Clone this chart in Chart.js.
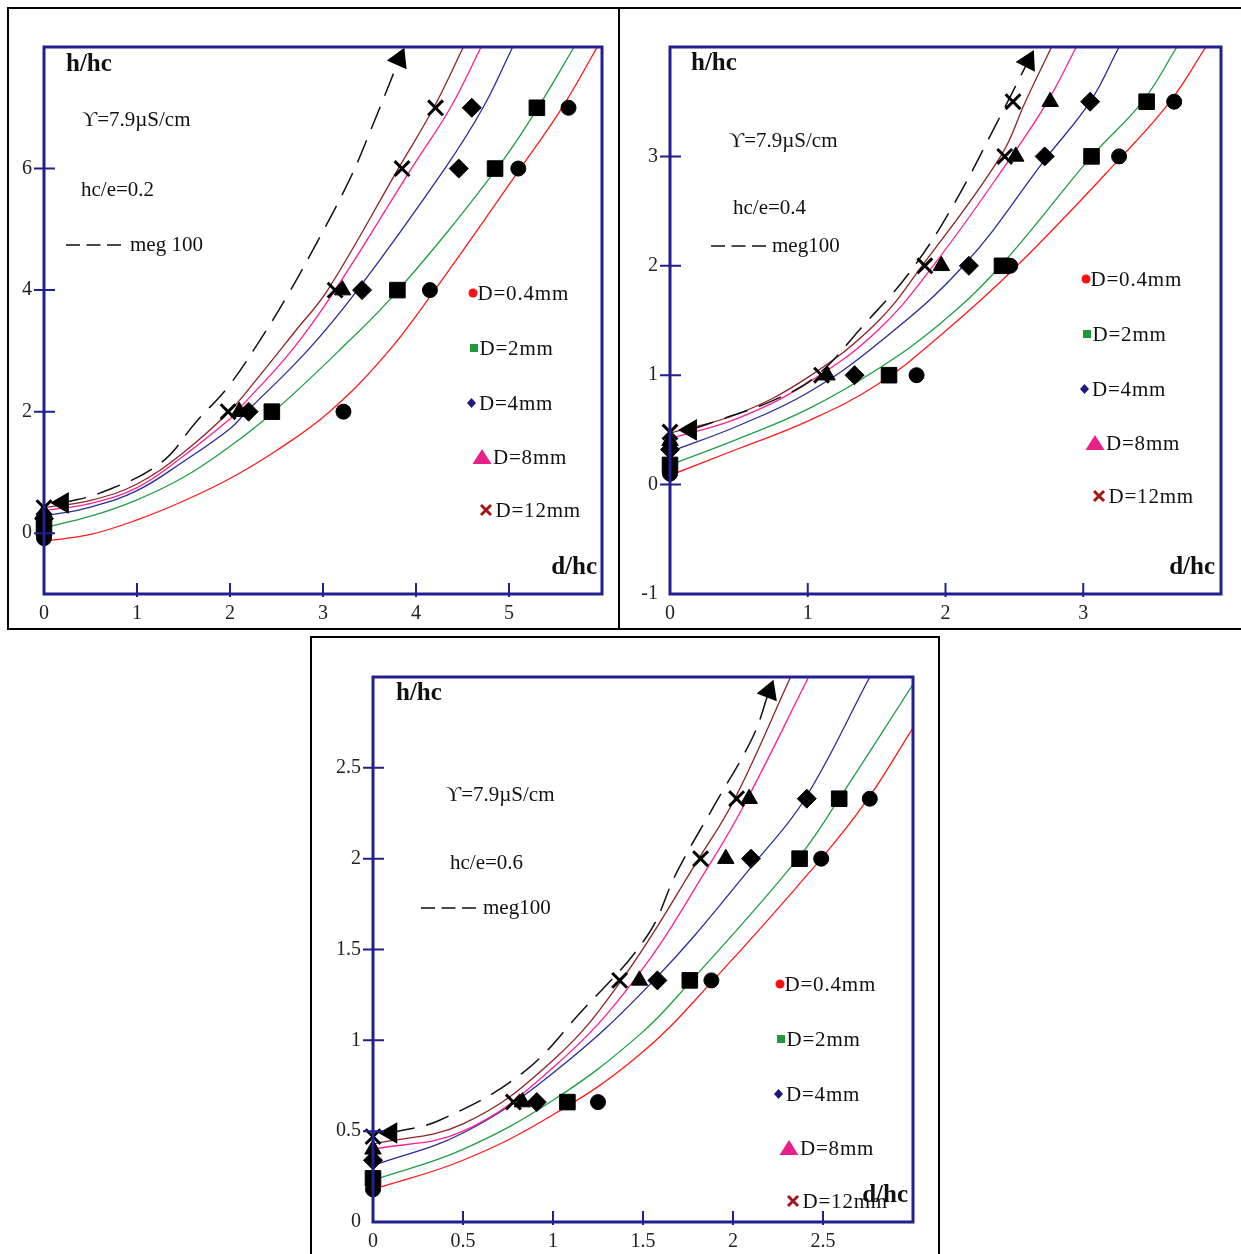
<!DOCTYPE html>
<html>
<head>
<meta charset="utf-8">
<script src="https://cdn.jsdelivr.net/npm/chart.js@4.4.1/dist/chart.umd.min.js"></script>
<style>
  html, body { margin: 0; padding: 0; background: #fff; }
  #page { position: relative; width: 1241px; height: 1254px; overflow: hidden; background: #fff; }
  .frame { position: absolute; border: 2px solid #000; box-sizing: border-box; }
  .panel { position: absolute; }
</style>
</head>
<body>
<div id="page">
  <div class="frame" style="left:7px;top:7px;width:613px;height:623px"></div>
  <div class="frame" style="left:618px;top:7px;width:640px;height:623px"></div>
  <div class="frame" style="left:310px;top:636px;width:630px;height:640px"></div>
  <div class="panel" style="left:9px;top:9px;width:609px;height:619px"><canvas id="c1"></canvas></div>
  <div class="panel" style="left:621px;top:9px;width:620px;height:619px"><canvas id="c2"></canvas></div>
  <div class="panel" style="left:313px;top:639px;width:625px;height:615px"><canvas id="c3"></canvas></div>
</div>
<script>
// ---- panel 1 : hc/e = 0.2 ----
const p1XTicks = [0, 1, 2, 3, 4, 5];
const p1YTicks = [0, 2, 4, 6];
const p1Circle   = [[0, -0.08], [3.22, 2], [4.15, 4], [5.10, 6], [5.64, 7]];
const p1Square   = [[0, 0.08], [2.45, 2], [3.80, 4], [4.85, 6], [5.30, 7]];
const p1Diamond  = [[0, 0.24], [2.20, 2], [3.42, 4], [4.46, 6], [4.60, 7]];
const p1Triangle = [[0, 0.34], [2.10, 2], [3.21, 4]];
const p1Cross    = [[0, 0.42], [1.98, 2], [3.13, 4], [3.85, 6], [4.21, 7]];
const p1Red   = [[0, -0.13], [0.5, -0.02], [1, 0.22], [1.5, 0.53], [2, 0.9], [2.5, 1.36], [3.07, 2.0], [3.68, 2.95], [4.2, 4.0], [5.12, 6.0], [5.57, 7.0], [5.95, 8.0]];
const p1Green = [[0, 0.09], [0.5, 0.28], [1, 0.55], [1.5, 0.92], [2, 1.43], [2.47, 2.0], [3.17, 3.0], [3.81, 4.0], [4.87, 6.0], [5.31, 7.0], [5.70, 8.0]];
const p1Blue  = [[0, 0.28], [0.5, 0.43], [1, 0.7], [1.5, 1.18], [2, 1.72], [2.18, 2.0], [2.83, 3.0], [3.37, 4.0], [4.31, 6.0], [4.72, 7.0], [5.04, 8.0]];
const p1Pink  = [[0, 0.37], [0.5, 0.49], [1, 0.75], [1.5, 1.27], [2, 1.88], [2.07, 2.0], [2.66, 3.0], [3.13, 4.0], [3.95, 6.0], [4.37, 7.0], [4.70, 8.0]];
const p1Brown = [[0, 0.42], [0.5, 0.54], [1, 0.81], [1.5, 1.33], [1.99, 2.0], [2.28, 2.52], [2.71, 3.34], [3.05, 4.0], [3.81, 6.0], [4.19, 7.0], [4.51, 8.0]];
const p1Meg   = [[0.2, 0.5], [0.6, 0.66], [1.25, 1.15], [1.64, 1.84], [1.98, 2.41], [2.32, 3.17], [2.61, 3.89], [2.87, 4.6], [3.28, 5.8], [3.51, 6.62], [3.82, 7.8]];

// ---- panel 2 : hc/e = 0.4 ----
const p2XTicks = [0, 1, 2, 3];
const p2YTicks = [-1, 0, 1, 2, 3];
const p2Circle   = [[0, 0.10], [1.79, 1], [2.47, 2], [3.26, 3], [3.66, 3.5]];
const p2Square   = [[0, 0.18], [1.59, 1], [2.41, 2], [3.06, 3], [3.46, 3.5]];
const p2Diamond  = [[0, 0.32], [1.34, 1], [2.17, 2], [2.72, 3], [3.05, 3.5]];
const p2Triangle = [[0, 0.40], [1.14, 1], [1.97, 2], [2.51, 3], [2.76, 3.5]];
const p2Cross    = [[0, 0.48], [1.10, 1], [1.85, 2], [2.43, 3], [2.49, 3.5]];
const p2Red   = [[0, 0.085], [0.5, 0.33], [1, 0.58], [1.5, 0.91], [1.96, 1.36], [2.52, 2.0], [3.28, 3.0], [3.63, 3.5], [3.89, 4.0]];
const p2Green = [[0, 0.18], [0.5, 0.42], [1, 0.69], [1.5, 1.05], [1.96, 1.47], [2.40, 2.0], [3.06, 3.0], [3.43, 3.5], [3.68, 4.0]];
const p2Blue  = [[0, 0.30], [0.5, 0.54], [1, 0.84], [1.5, 1.28], [2.13, 2.0], [2.74, 3.0], [3.05, 3.5], [3.26, 4.0]];
const p2Pink  = [[0, 0.42], [0.5, 0.61], [1, 0.93], [1.5, 1.40], [1.91, 2.0], [2.48, 3.0], [2.74, 3.5], [2.95, 4.0]];
const p2Brown = [[0, 0.47], [0.5, 0.65], [1, 0.98], [1.5, 1.48], [1.83, 2.0], [2.40, 3.0], [2.58, 3.5], [2.77, 4.0]];
const p2Meg   = [[0.15, 0.5], [0.38, 0.6], [0.75, 0.77], [1.06, 0.99], [1.4, 1.45], [1.74, 1.94], [2.05, 2.54], [2.37, 3.3], [2.6, 3.87]];

// ---- panel 3 : hc/e = 0.6 ----
const p3XTicks = [0, 0.5, 1, 1.5, 2, 2.5];
const p3YTicks = [0, 0.5, 1, 1.5, 2, 2.5];
const p3Circle   = [[0, 0.18], [1.25, 0.66], [1.88, 1.33], [2.49, 2], [2.76, 2.33]];
const p3Square   = [[0, 0.24], [1.08, 0.66], [1.76, 1.33], [2.37, 2], [2.59, 2.33]];
const p3Diamond  = [[0, 0.34], [0.91, 0.66], [1.58, 1.33], [2.10, 2], [2.41, 2.33]];
const p3Triangle = [[0, 0.40], [0.83, 0.66], [1.48, 1.33], [1.96, 2], [2.09, 2.33]];
const p3Cross    = [[0, 0.47], [0.78, 0.66], [1.37, 1.33], [1.82, 2], [2.02, 2.33]];
const p3Red   = [[0, 0.18], [0.5, 0.34], [1, 0.59], [1.48, 0.92], [1.89, 1.33], [2.49, 2.0], [2.75, 2.33], [3.0, 2.72]];
const p3Green = [[0, 0.23], [0.5, 0.40], [1, 0.67], [1.48, 1.03], [1.77, 1.33], [2.36, 2.0], [2.59, 2.33], [3.0, 2.96]];
const p3Blue  = [[0, 0.31], [0.5, 0.49], [1, 0.82], [1.56, 1.33], [2.14, 2.0], [2.40, 2.33], [2.76, 3.0]];
const p3Pink  = [[0, 0.40], [0.5, 0.50], [1, 0.85], [1.45, 1.33], [1.89, 2.0], [2.08, 2.33], [2.42, 3.0]];
const p3Brown = [[0, 0.43], [0.5, 0.54], [1, 0.89], [1.38, 1.33], [1.81, 2.0], [2.01, 2.33], [2.32, 3.0]];
const p3Meg   = [[0.1, 0.49], [0.37, 0.56], [0.83, 0.82], [1.15, 1.15], [1.52, 1.57], [1.69, 1.93], [1.90, 2.30], [2.11, 2.67], [2.2, 2.92]];

const legendLabels = ["D=0.4mm", "D=2mm", "D=4mm", "D=8mm", "D=12mm"];

const RED = "#ff1a1a", GREEN = "#1e9e44", BLUE = "#2a2a9c", PINK = "#ff1f8f", BROWN = "#8c2424";
const AXIS = "#221f8e";
const SERIF = '"Liberation Serif", "Times New Roman", serif';

const xy = pts => pts.map(([x, y]) => ({ x, y }));

function marker(pts, style, r) {
    return {
        data: xy(pts), showLine: false, pointStyle: style, pointRadius: r,
        pointBackgroundColor: "#000", pointBorderColor: "#000",
        pointBorderWidth: style === "crossRot" ? 3 : 1, clip: false
    };
}

function curve(pts, color) {
    return {
        data: xy(pts), showLine: true, borderColor: color, borderWidth: 1.3,
        pointRadius: 0, tension: 0.4, fill: false
    };
}

function megLine(pts, tipAngle) {
    const last = pts.length - 1;
    return {
        data: xy(pts), showLine: true, borderColor: "#111", borderWidth: 1.5, borderDash: [24, 12],
        tension: 0.4, fill: false, clip: false,
        pointStyle: "triangle",
        pointRadius: pts.map((_, i) => (i === 0 || i === last) ? 11 : 0),
        pointRotation: pts.map((_, i) => i === 0 ? -90 : tipAngle),
        pointBackgroundColor: "#000", pointBorderColor: "#000"
    };
}

// legend rows: marker offset and text start, relative to the legend origin
const legendRows = [
    { shape: "circle",   color: "#ff1010", mx: 0,    my: 0,   tx: 4.5 },
    { shape: "square",   color: "#1e9a3c", mx: 1,    my: 55,  tx: 6.5 },
    { shape: "diamond",  color: "#1c1a7a", mx: -1.5, my: 110, tx: 6 },
    { shape: "triangle", color: "#e8208a", mx: 9,    my: 164, tx: 20 },
    { shape: "cross",    color: "#a01818", mx: 13,   my: 217, tx: 22.5 }
];

function drawLegendMark(ctx, shape, cx, cy, color) {
    ctx.fillStyle = color; ctx.strokeStyle = color;
    ctx.beginPath();
    if (shape === "circle") { ctx.arc(cx, cy, 4.5, 0, Math.PI * 2); ctx.fill(); }
    else if (shape === "square") { ctx.fillRect(cx - 4, cy - 4, 8, 8); }
    else if (shape === "diamond") {
        ctx.moveTo(cx, cy - 5); ctx.lineTo(cx + 4.5, cy); ctx.lineTo(cx, cy + 5); ctx.lineTo(cx - 4.5, cy);
        ctx.closePath(); ctx.fill();
    } else if (shape === "triangle") {
        ctx.moveTo(cx, cy - 8); ctx.lineTo(cx + 9.5, cy + 7); ctx.lineTo(cx - 9.5, cy + 7);
        ctx.closePath(); ctx.fill();
    } else {
        ctx.lineWidth = 3;
        ctx.moveTo(cx - 5, cy - 5); ctx.lineTo(cx + 5, cy + 5);
        ctx.moveTo(cx + 5, cy - 5); ctx.lineTo(cx - 5, cy + 5);
        ctx.stroke();
    }
}

const decorPlugin = {
    id: "decor",
    afterDraw(chart, args, o) {
        const { ctx, chartArea: a, scales: { x, y } } = chart;
        ctx.save();

        // tick marks crossing the frame
        ctx.strokeStyle = AXIS;
        ctx.lineWidth = 2;
        ctx.beginPath();
        y.ticks.forEach(t => {
            const py = y.getPixelForValue(t.value);
            if (py > a.bottom - 3 || py < a.top + 3) return;
            ctx.moveTo(a.left - 10, py); ctx.lineTo(a.left + 11, py);
        });
        x.ticks.forEach(t => {
            const px = x.getPixelForValue(t.value);
            if (px < a.left + 3 || px > a.right - 3) return;
            ctx.moveTo(px, a.bottom - 11); ctx.lineTo(px, a.bottom + 3);
        });
        ctx.stroke();
        ctx.lineWidth = 3;
        ctx.strokeRect(a.left, a.top, a.right - a.left, a.bottom - a.top);

        // text notes
        ctx.fillStyle = "#111";
        ctx.textBaseline = "middle";
        ctx.textAlign = "left";
        ctx.font = `bold 25px ${SERIF}`;
        ctx.fillText("h/hc", a.left + o.hAt[0], a.top + o.hAt[1]);
        ctx.font = `21px ${SERIF}`;
        ctx.fillText("ϒ=7.9µS/cm", a.left + o.condAt[0], a.top + o.condAt[1]);
        ctx.fillText(o.ratio, a.left + o.ratioAt[0], a.top + o.ratioAt[1]);
        ctx.fillText(o.meg, a.left + o.megAt[0] + o.megText, a.top + o.megAt[1]);

        // "- - -" sample
        ctx.strokeStyle = "#111";
        ctx.lineWidth = 1.6;
        ctx.beginPath();
        for (let i = 0; i < 3; i++) {
            const sx = a.left + o.megAt[0] + i * 20.5;
            ctx.moveTo(sx, a.top + o.megAt[1]); ctx.lineTo(sx + 14, a.top + o.megAt[1]);
        }
        ctx.stroke();

        // legend
        const lx = a.left + o.legendAt[0], ly = a.top + o.legendAt[1];
        legendRows.forEach((r, i) => {
            drawLegendMark(ctx, r.shape, lx + r.mx, ly + r.my, r.color);
            ctx.fillStyle = "#111";
            ctx.font = `21px ${SERIF}`;
            ctx.letterSpacing = "0.8px";
            ctx.fillText(legendLabels[i], lx + r.tx, ly + r.my + 1);
            ctx.letterSpacing = "0px";
        });

        // d/hc
        ctx.fillStyle = "#111";
        ctx.textAlign = "right";
        ctx.font = `bold 25px ${SERIF}`;
        ctx.fillText("d/hc", a.right - o.dAt[0], a.bottom - o.dAt[1]);

        ctx.restore();
    }
};

function makePanel(id, p) {
    const ctx = document.getElementById(id).getContext("2d");
    const tickFont = { family: SERIF, size: 20 };
    return new Chart(ctx, {
        type: "scatter",
        data: {
            datasets: [
                marker(p.cross, "crossRot", 10.5),
                marker(p.triangle, "triangle", 9.5),
                marker(p.diamond, "rectRot", 9.5),
                marker(p.square, "rect", 11),
                marker(p.circle, "circle", 7.5),
                megLine(p.meg, p.tip),
                curve(p.brown, BROWN),
                curve(p.pink, PINK),
                curve(p.blue, BLUE),
                curve(p.green, GREEN),
                curve(p.red, RED)
            ]
        },
        options: {
            responsive: true, maintainAspectRatio: false, animation: false,
            layout: { padding: { top: 38, right: p.padRight, left: 0, bottom: 0 } },
            plugins: {
                legend: { display: false }, tooltip: { enabled: false },
                decor: p.notes
            },
            scales: {
                x: {
                    type: "linear", min: p.xMin, max: p.xMax,
                    grid: { display: false, drawTicks: false }, border: { display: false },
                    ticks: { font: tickFont, color: "#222", padding: 8, callback: v => String(v) },
                    afterBuildTicks: s => { s.ticks = p.xTicks.map(v => ({ value: v })); },
                    afterFit: s => { s.height = p.bottomH; }
                },
                y: {
                    type: "linear", min: p.yMin, max: p.yMax,
                    grid: { display: false, drawTicks: false }, border: { display: false },
                    ticks: { font: tickFont, color: "#222", padding: 12, callback: v => String(v) },
                    afterBuildTicks: s => { s.ticks = p.yTicks.map(v => ({ value: v })); },
                    afterFit: s => { s.width = p.leftW; }
                }
            }
        },
        plugins: [decorPlugin]
    });
}

makePanel("c1", {
    xMin: 0, xMax: 6, yMin: -1, yMax: 8, xTicks: p1XTicks, yTicks: p1YTicks,
    leftW: 35, bottomH: 34, padRight: 16,
    circle: p1Circle, square: p1Square, diamond: p1Diamond, triangle: p1Triangle, cross: p1Cross,
    red: p1Red, green: p1Green, blue: p1Blue, pink: p1Pink, brown: p1Brown, meg: p1Meg, tip: 24,
    notes: { hAt: [22, 18], condAt: [38, 73], ratio: "hc/e=0.2", ratioAt: [37, 143],
             meg: "meg 100", megAt: [22, 198], megText: 64, legendAt: [429, 246], dAt: [5, 26] }
});

makePanel("c2", {
    xMin: 0, xMax: 4, yMin: -1, yMax: 4, xTicks: p2XTicks, yTicks: p2YTicks,
    leftW: 49, bottomH: 34, padRight: 20,
    circle: p2Circle, square: p2Square, diamond: p2Diamond, triangle: p2Triangle, cross: p2Cross,
    red: p2Red, green: p2Green, blue: p2Blue, pink: p2Pink, brown: p2Brown, meg: p2Meg, tip: 27,
    notes: { hAt: [21, 17], condAt: [59, 94], ratio: "hc/e=0.4", ratioAt: [63, 161],
             meg: "meg100", megAt: [41, 199], megText: 61, legendAt: [416, 232], dAt: [6, 26] }
});

makePanel("c3", {
    xMin: 0, xMax: 3, yMin: 0, yMax: 3, xTicks: p3XTicks, yTicks: p3YTicks,
    leftW: 60, bottomH: 32, padRight: 25,
    circle: p3Circle, square: p3Square, diamond: p3Diamond, triangle: p3Triangle, cross: p3Cross,
    red: p3Red, green: p3Green, blue: p3Blue, pink: p3Pink, brown: p3Brown, meg: p3Meg, tip: 21,
    notes: { hAt: [23, 17], condAt: [73, 118], ratio: "hc/e=0.6", ratioAt: [77, 186],
             meg: "meg100", megAt: [48, 231], megText: 62, legendAt: [407, 307], dAt: [5, 26] }
});
</script>
</body>
</html>
